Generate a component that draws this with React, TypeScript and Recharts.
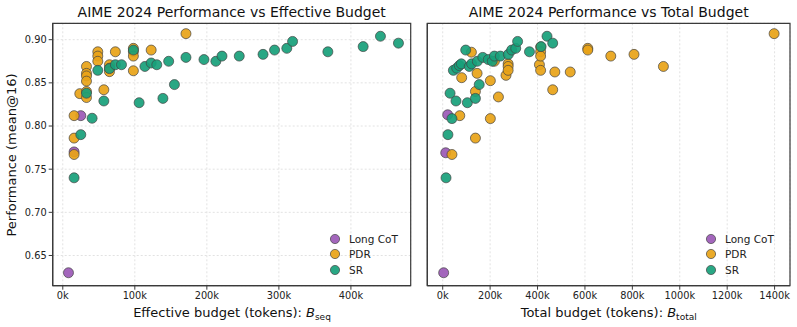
import React from 'react';
import { ScatterChart, Scatter, XAxis, YAxis, CartesianGrid, ReferenceArea } from 'recharts';

// series names and colours
const seriesNames = ['Long CoT', 'PDR', 'SR'];
const seriesColors = ['#9b59b6', '#e8a317', '#17a07a'];

const yTicks = [0.65, 0.7, 0.75, 0.8, 0.85, 0.9];
const seqTicks = [0, 100000, 200000, 300000, 400000];
const totalTicks = [0, 200000, 400000, 600000, 800000, 1000000, 1200000, 1400000];

// Effective budget panel (B_seq)
const longCotSeqX = [7900, 15700, 25000];
const longCotSeqY = [0.63, 0.77, 0.812];

const pdrSeqX = [15700, 15700, 15700, 23600, 32900, 32900, 32900, 32900, 32900, 32900, 48600, 48600, 48600, 57000, 64800, 64800, 64800, 73000, 98000, 98000, 98000, 98000, 122700, 171000];
const pdrSeqY = [0.812, 0.786, 0.767, 0.8375, 0.869, 0.861, 0.858, 0.852, 0.84, 0.833, 0.886, 0.881, 0.875, 0.842, 0.871, 0.867, 0.863, 0.886, 0.89, 0.886, 0.881, 0.864, 0.888, 0.907];

const srSeqX = [15700, 25000, 32900, 40700, 48600, 57000, 64800, 73000, 81500, 98000, 106000, 114000, 122700, 130500, 139000, 147000, 155000, 171000, 196000, 212500, 221000, 245000, 278000, 294000, 311000, 319000, 368000, 417000, 441000, 466000];
const srSeqY = [0.74, 0.79, 0.838, 0.809, 0.8645, 0.829, 0.8665, 0.871, 0.871, 0.888, 0.827, 0.869, 0.873, 0.871, 0.832, 0.875, 0.848, 0.8795, 0.877, 0.875, 0.881, 0.881, 0.883, 0.888, 0.89, 0.898, 0.886, 0.892, 0.904, 0.896];

// Total budget panel (B_total)
const longCotTotX = [4000, 12700, 21000];
const longCotTotY = [0.63, 0.769, 0.813];

const pdrTotX = [39000, 72000, 138000, 80000, 121000, 145000, 138000, 201000, 201000, 235000, 218000, 267000, 276000, 276000, 276000, 408000, 413000, 413000, 413000, 413000, 464000, 473000, 538000, 612000, 612000, 709000, 807000, 931000, 1398000];
const pdrTotY = [0.767, 0.812, 0.786, 0.856, 0.8855, 0.861, 0.84, 0.8525, 0.8086, 0.8337, 0.875, 0.8587, 0.872, 0.869, 0.8645, 0.871, 0.8915, 0.886, 0.881, 0.8645, 0.842, 0.8626, 0.8626, 0.89, 0.888, 0.881, 0.883, 0.869, 0.907];

const srTotX = [14000, 22000, 31000, 39000, 45000, 56000, 59000, 70000, 78500, 97000, 104000, 112000, 122000, 138000, 146000, 154000, 169000, 192000, 209000, 218000, 243000, 277000, 291000, 308000, 316000, 366000, 415000, 440000, 464000];
const srTotY = [0.74, 0.79, 0.838, 0.8086, 0.8645, 0.829, 0.867, 0.87, 0.872, 0.888, 0.827, 0.869, 0.872, 0.832, 0.875, 0.848, 0.8795, 0.877, 0.875, 0.881, 0.881, 0.883, 0.888, 0.89, 0.898, 0.886, 0.892, 0.904, 0.896];

const toPoints = (xs: number[], ys: number[]) => xs.map((x, i) => ({ x, y: ys[i] }));

const seqSeries = [
  toPoints(longCotSeqX, longCotSeqY),
  toPoints(pdrSeqX, pdrSeqY),
  toPoints(srSeqX, srSeqY),
];
const totSeries = [
  toPoints(longCotTotX, longCotTotY),
  toPoints(pdrTotX, pdrTotY),
  toPoints(srTotX, srTotY),
];

const FONT = '"DejaVu Sans", sans-serif';
const Y_DOMAIN: [number, number] = [0.615, 0.919];
const AXIS_COLOR = '#3a3a3a';

const dot = (color: string) => (props: any) => (
  <circle cx={props.cx} cy={props.cy} r={5} fill={color} fillOpacity={0.92} stroke="#444" strokeWidth={0.7} />
);

const kFormat = (v: number) => `${Math.round(v / 1000)}k`;

const tickStyle = { fontSize: 9.8, fill: '#222', fontFamily: FONT };

interface PanelProps {
  series: { x: number; y: number }[][];
  xDomain: [number, number];
  xTicks: number[];
  width: number;
  margin: { top: number; right: number; bottom: number; left: number };
  showYLabels: boolean;
  yWidth: number;
}

const Panel = ({ series, xDomain, xTicks, width, margin, showYLabels, yWidth }: PanelProps) => (
  <ScatterChart width={width} height={327} margin={margin}>
    <CartesianGrid stroke="#e2e2e2" strokeDasharray="2 2" />
    <XAxis
      type="number"
      dataKey="x"
      domain={xDomain}
      ticks={xTicks}
      allowDataOverflow
      tickFormatter={kFormat}
      tick={tickStyle}
      tickSize={4}
      height={22}
      axisLine={{ stroke: AXIS_COLOR, strokeWidth: 1.2 }}
      tickLine={{ stroke: AXIS_COLOR }}
    />
    <YAxis
      type="number"
      dataKey="y"
      domain={Y_DOMAIN}
      ticks={yTicks}
      allowDataOverflow
      tickFormatter={(v: number) => v.toFixed(2)}
      tick={showYLabels ? tickStyle : false}
      tickSize={4}
      width={yWidth}
      axisLine={{ stroke: AXIS_COLOR, strokeWidth: 1.2 }}
      tickLine={{ stroke: AXIS_COLOR }}
    />
    <ReferenceArea
      x1={xDomain[0]}
      x2={xDomain[1]}
      y1={Y_DOMAIN[0]}
      y2={Y_DOMAIN[1]}
      fill="none"
      stroke={AXIS_COLOR}
      strokeWidth={1.2}
    />
    {series.map((pts, i) => (
      <Scatter key={seriesNames[i]} name={seriesNames[i]} data={pts} shape={dot(seriesColors[i])} isAnimationActive={false} />
    ))}
  </ScatterChart>
);

const Legend = ({ left, top }: { left: number; top: number }) => (
  <div style={{ position: 'absolute', left, top, fontFamily: FONT, fontSize: 10.5, color: '#222' }}>
    {seriesNames.map((name, i) => (
      <div key={name} style={{ display: 'flex', alignItems: 'center', height: 15.5 }}>
        <svg width={12} height={12} style={{ marginRight: 8 }}>
          <circle cx={6} cy={6} r={4.6} fill={seriesColors[i]} fillOpacity={0.92} stroke="#444" strokeWidth={0.7} />
        </svg>
        <span>{name}</span>
      </div>
    ))}
  </div>
);

const centered = (x: number, y: number, extra: React.CSSProperties = {}): React.CSSProperties => ({
  position: 'absolute',
  left: x,
  top: y,
  transform: 'translate(-50%, -50%)',
  whiteSpace: 'nowrap',
  fontFamily: FONT,
  color: '#111',
  ...extra,
});

export default function App() {
  return (
    <div style={{ position: 'fixed', left: 0, top: 0, width: 797, height: 327, background: '#fff', overflow: 'hidden' }}>
      <div style={{ position: 'absolute', left: 0, top: 0 }}>
        <Panel
          series={seqSeries}
          xDomain={[-14000, 483000]}
          xTicks={seqTicks}
          width={420}
          margin={{ top: 23.3, right: 9.3, bottom: 19.3, left: 12.7 }}
          showYLabels
          yWidth={40}
        />
      </div>
      <div style={{ position: 'absolute', left: 420, top: 0 }}>
        <Panel
          series={totSeries}
          xDomain={[-65000, 1465000]}
          xTicks={totalTicks}
          width={377}
          margin={{ top: 23.3, right: 7, bottom: 19.3, left: 6.3 }}
          showYLabels={false}
          yWidth={1}
        />
      </div>

      <div style={centered(231.7, 12, { fontSize: 14 })}>AIME 2024 Performance vs Effective Budget</div>
      <div style={centered(608.7, 12, { fontSize: 14 })}>AIME 2024 Performance vs Total Budget</div>

      <div style={centered(11, 155, { fontSize: 13, transform: 'translate(-50%, -50%) rotate(-90deg)' })}>
        Performance (mean@16)
      </div>

      <div style={centered(232, 313, { fontSize: 13 })}>
        Effective budget (tokens): <i>B</i>
        <sub style={{ fontSize: 9, verticalAlign: -3 }}>seq</sub>
      </div>
      <div style={centered(608.7, 313, { fontSize: 13 })}>
        Total budget (tokens): <i>B</i>
        <sub style={{ fontSize: 9, verticalAlign: -3 }}>total</sub>
      </div>

      <Legend left={329} top={231} />
      <Legend left={705} top={231} />
    </div>
  );
}
